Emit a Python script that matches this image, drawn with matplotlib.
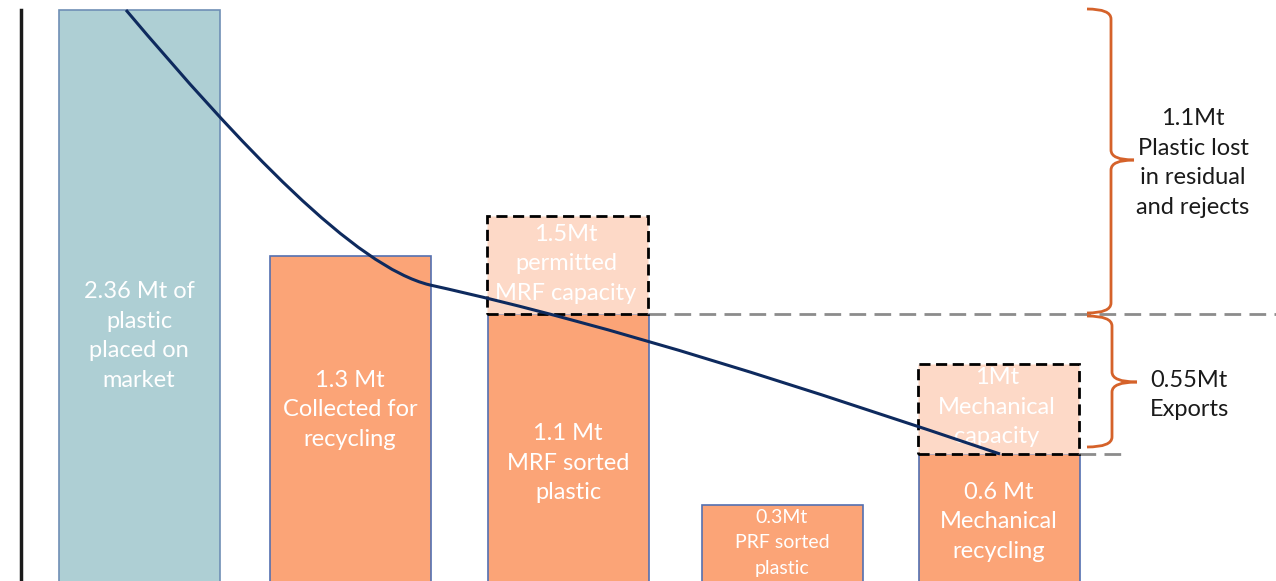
import matplotlib
matplotlib.use("Agg")
import matplotlib.pyplot as plt
from matplotlib.path import Path
from matplotlib.patches import PathPatch, Rectangle

plt.rcParams['font.family'] = ['Lato', 'DejaVu Sans']

# data (heights, in picture units above the bottom edge)
labels = ["2.36 Mt of\nplastic\nplaced on\nmarket",
          "1.3 Mt\nCollected for\nrecycling",
          "1.1 Mt\nMRF sorted\nplastic",
          "0.3Mt\nPRF sorted\nplastic",
          "0.6 Mt\nMechanical\nrecycling"]
bar_heights = [571, 325, 267, 76, 127]
bar_colors = ["#aecfd4", "#fba477", "#fba477", "#fba477", "#fba477"]

cap_labels = ["1.5Mt\npermitted\nMRF capacity", "1Mt\nMechanical\ncapacity"]
cap_index = [2, 4]
cap_heights = [365, 217]

brace_texts = ["1.1Mt\nPlastic lost\nin residual\nand rejects", "0.55Mt\nExports"]

# trend curve control points (two cubic segments)
curve_pts = [(126, 571), (240, 436), (355, 314), (430, 296),
             (620, 254), (810, 191), (1000, 127)]

fig = plt.figure(figsize=(12.76, 5.81), dpi=100)
ax = fig.add_axes([0, 0, 1, 1])
ax.set_xlim(0, 1276)
ax.set_ylim(0, 581)
ax.axis("off")

xpos = [139, 350, 568, 782, 999]
width = 161
base = -10

# left axis line
ax.plot([21, 21], [0, 571], color="#1a1a1a", lw=2.5)

ax.bar(xpos, [h - base for h in bar_heights], width=width, bottom=base,
       color=bar_colors, edgecolor=["#6f8fb5"] + ["#5470b0"] * 4, linewidth=1.2)

# capacity boxes
for i, h in zip(cap_index, cap_heights):
    top_bar = bar_heights[i]
    ax.add_patch(Rectangle((xpos[i] - width / 2 - 1, top_bar), width, h - top_bar,
                           facecolor="#fdd9c7", edgecolor="black", lw=2,
                           linestyle=(0, (4, 2)), zorder=3))

# grey reference lines
ax.plot([649, 1276], [bar_heights[2], bar_heights[2]], color="#8c8c8c", lw=2,
        linestyle=(0, (6, 3)), zorder=2)
ax.plot([1079, 1122], [bar_heights[4], bar_heights[4]], color="#8c8c8c", lw=2,
        linestyle=(0, (6, 3)), zorder=2)

# curve
codes = [Path.MOVETO] + [Path.CURVE4] * 6
ax.add_patch(PathPatch(Path(curve_pts, codes), facecolor="none",
                       edgecolor="#0e2a5e", lw=2.2, zorder=6))


def brace(x0, xs, xt, ytop, ybot, ytip, color="#d5622a"):
    r = 10
    up = Path([(x0, ytop), (xs, ytop), (xs, ytop - r), (xs, ytip + r),
               (xs, ytip), (xt, ytip)],
              [Path.MOVETO, Path.CURVE3, Path.CURVE3, Path.LINETO,
               Path.CURVE3, Path.CURVE3])
    lo = Path([(x0, ybot), (xs, ybot), (xs, ybot + r), (xs, ytip - r),
               (xs, ytip), (xt, ytip)],
              [Path.MOVETO, Path.CURVE3, Path.CURVE3, Path.LINETO,
               Path.CURVE3, Path.CURVE3])
    for p in (up, lo):
        ax.add_patch(PathPatch(p, facecolor="none", edgecolor=color, lw=2, zorder=5))


brace(1087, 1111, 1134, 572, 268, 421)
brace(1087, 1112, 1137, 265, 134, 199)

# texts
text_y = [245, 171, 118, 38, 59]
for i, (lab, ty) in enumerate(zip(labels, text_y)):
    small = i == 3
    ax.text(xpos[i], ty, lab, ha="center", va="center", color="white",
            fontsize=14 if small else 17, linespacing=1.6 if small else 1.5,
            zorder=4)

cap_text_y = [317, 174]
for i, lab, ty in zip(cap_index, cap_labels, cap_text_y):
    ax.text(xpos[i] - 2, ty, lab, ha="center", va="center", color="white",
            fontsize=17, linespacing=1.5, zorder=4)

ax.text(1193, 418, brace_texts[0], ha="center", va="center", color="#1a1a1a",
        fontsize=17, linespacing=1.5)
ax.text(1189, 186, brace_texts[1], ha="center", va="center", color="#1a1a1a",
        fontsize=17, linespacing=1.5)

fig.savefig("out.png", dpi=100)
